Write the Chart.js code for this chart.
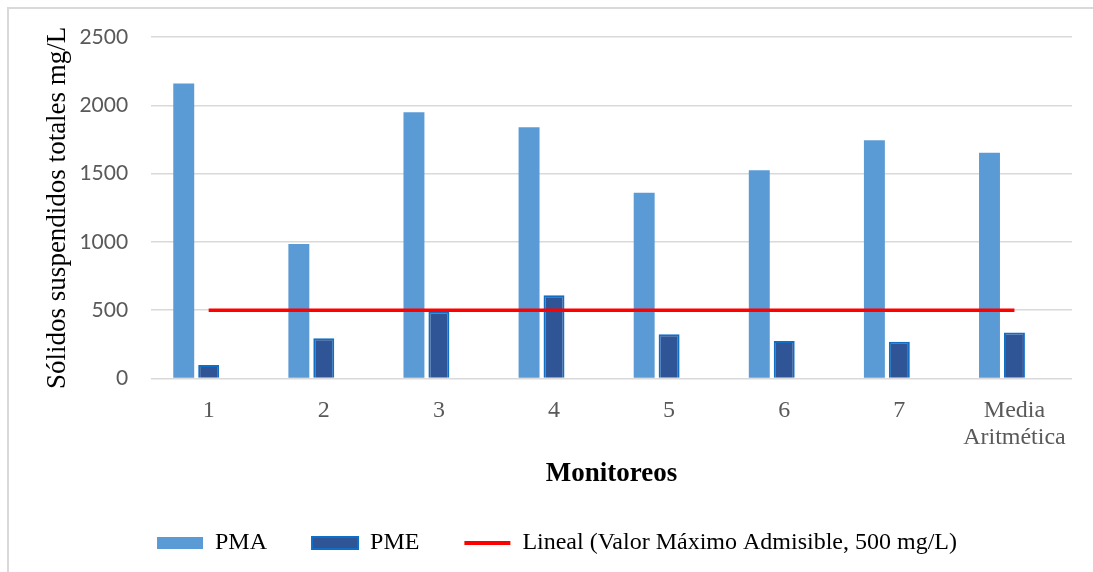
<!DOCTYPE html>
<html>
<head>
<meta charset="utf-8">
<script src="https://cdn.jsdelivr.net/npm/chart.js@4.4.1/dist/chart.umd.min.js"></script>
<style>
  html, body { margin: 0; padding: 0; background: #fff; }
  #wrap { position: relative; width: 1093px; height: 572px; overflow: hidden; background: #fff; }
  #frame { position: absolute; left: 7px; top: 7px; width: 1200px; height: 700px;
           border-left: 2px solid #d9d9d9; border-top: 2px solid #d9d9d9; }
  #c { position: absolute; left: 0; top: 0; }
</style>
</head>
<body>
<div id="wrap">
  <div id="frame"></div>
  <canvas id="c" width="1093" height="572"></canvas>
</div>
<script>
// Monitoring campaigns (last group is the arithmetic mean)
const categories = ['1', '2', '3', '4', '5', '6', '7', ['Media', 'Aritmética']];
// Total suspended solids, mg/L
const pma = [2160, 985, 1950, 1840, 1360, 1525, 1745, 1652];
const pme = [100, 295, 490, 610, 325, 275, 270, 338];
// Maximum admissible value series and its linear trend
const valorMaximo = [500, 500, 500, 500, 500, 500, 500, 500];
const tendenciaLineal = [500, 500, 500, 500, 500, 500, 500, 500];
const yTicks = [0, 500, 1000, 1500, 2000, 2500];

const serif = "'Liberation Serif', 'Times New Roman', serif";
const sans = "Lato, 'Liberation Sans', sans-serif";

const ctx = document.getElementById('c').getContext('2d');
new Chart(ctx, {
  type: 'bar',
  data: {
    labels: categories,
    datasets: [
      {
        label: 'PMA',
        data: pma,
        backgroundColor: '#5B9BD5',
        borderWidth: 0,
        order: 1
      },
      {
        label: 'PME',
        data: pme,
        backgroundColor: '#2F5597',
        borderColor: '#0F6FC6',
        borderWidth: 2,
        order: 1
      },
      {
        // keeps its slot in each group but is drawn without fill
        label: 'Valor Máximo Admisible, 500 mg/L',
        data: valorMaximo,
        backgroundColor: 'rgba(0,0,0,0)',
        borderWidth: 0,
        order: 1
      },
      {
        type: 'line',
        label: 'Lineal (Valor Máximo Admisible, 500 mg/L)',
        data: tendenciaLineal,
        borderColor: '#FF0000',
        backgroundColor: '#FF0000',
        borderWidth: 3.5,
        pointRadius: 0,
        fill: false,
        order: 0
      }
    ]
  },
  options: {
    responsive: false,
    animation: false,
    layout: { padding: { left: 42, right: 21, top: 37, bottom: 7 } },
    datasets: {
      bar: { categoryPercentage: 0.65, barPercentage: 0.84 }
    },
    scales: {
      x: {
        grid: { display: false, drawTicks: false },
        border: { display: false },
        ticks: {
          color: '#595959',
          padding: 18.4,
          font: { family: serif, size: 24, lineHeight: 1.13 },
          maxRotation: 0,
          autoSkip: false
        },
        title: {
          display: true,
          text: 'Monitoreos',
          color: '#000',
          font: { family: serif, size: 27, weight: 'bold', lineHeight: 1.2 },
          padding: { top: -12, bottom: -4 }
        }
      },
      y: {
        min: 0,
        max: 2500,
        afterBuildTicks: (axis) => { axis.ticks = yTicks.map(v => ({ value: v })); },
        grid: { color: '#D9D9D9', lineWidth: 1.5, drawTicks: false },
        border: { display: false },
        ticks: {
          color: '#595959',
          padding: 23,
          font: { family: sans, size: 21 },
          callback: (value) => String(value)
        },
        title: {
          display: true,
          text: 'Sólidos suspendidos totales mg/L',
          color: '#000',
          font: { family: serif, size: 27, lineHeight: 1.2 },
          padding: { top: 0, bottom: -18 }
        }
      }
    },
    plugins: {
      tooltip: { enabled: false },
      legend: {
        position: 'bottom',
        labels: {
          color: '#000',
          font: { family: serif, size: 24 },
          usePointStyle: true,
          pointStyleWidth: 46,
          boxHeight: 12,
          padding: 45,
          generateLabels: (chart) => {
            const base = Chart.defaults.plugins.legend.labels.generateLabels(chart);
            return base
              .filter(item => item.datasetIndex !== 2)
              .sort((a, b) => a.datasetIndex - b.datasetIndex)
              .map(item => {
                const ds = chart.data.datasets[item.datasetIndex];
                const isLine = ds.type === 'line';
                return Object.assign({}, item, {
                  pointStyle: isLine ? 'line' : 'rect',
                  lineWidth: isLine ? 4 : (ds.borderWidth || 0)
                });
              });
          }
        }
      }
    }
  }
});
</script>
</body>
</html>
